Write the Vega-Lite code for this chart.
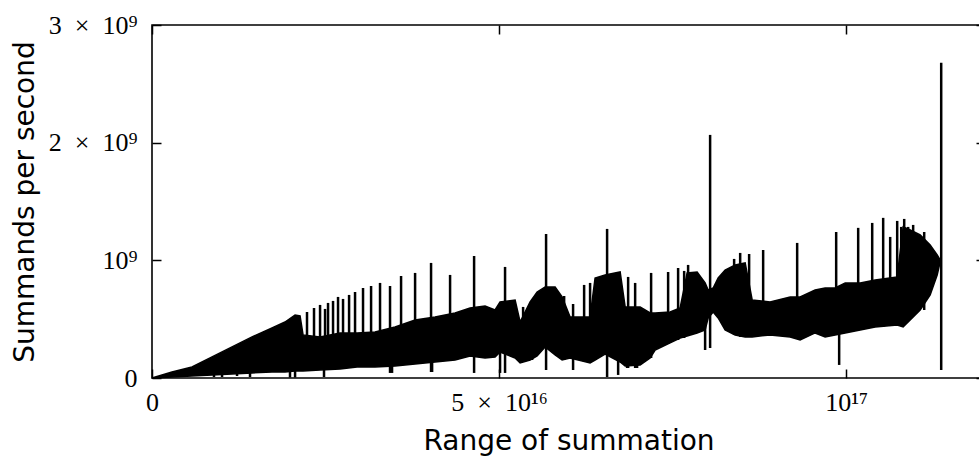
{
  "$schema": "https://vega.github.io/schema/vega-lite/v6.json",
  "width": 833,
  "height": 353,
  "autosize": {"type": "none"},
  "padding": {"left": 152, "top": 25, "right": -6, "bottom": 80},
  "background": "white",
  "config": {"view": {"stroke": "black", "strokeWidth": 1.6}},
  "datasets": {
    "env": [
      {"x": 0, "hi": 0, "lo": 0},
      {"x": 1.44e15, "hi": 2.6e7, "lo": 4e6},
      {"x": 2.88e15, "hi": 5.1e7, "lo": 8.5e6},
      {"x": 5.76e15, "hi": 9.4e7, "lo": 1.7e7},
      {"x": 8.65e15, "hi": 1.79e8, "lo": 2.6e7},
      {"x": 1.153e16, "hi": 2.64e8, "lo": 3.4e7},
      {"x": 1.441e16, "hi": 3.49e8, "lo": 4.3e7},
      {"x": 1.729e16, "hi": 4.25e8, "lo": 5.1e7},
      {"x": 1.916e16, "hi": 4.76e8, "lo": 5.1e7},
      {"x": 2.061e16, "hi": 5.36e8, "lo": 6.0e7},
      {"x": 2.133e16, "hi": 5.27e8, "lo": 6.0e7},
      {"x": 2.176e16, "hi": 3.66e8, "lo": 6.0e7},
      {"x": 2.421e16, "hi": 3.49e8, "lo": 6.8e7},
      {"x": 2.709e16, "hi": 3.83e8, "lo": 7.7e7},
      {"x": 2.954e16, "hi": 3.83e8, "lo": 9.4e7},
      {"x": 3.213e16, "hi": 3.91e8, "lo": 9.4e7},
      {"x": 3.501e16, "hi": 4.34e8, "lo": 1.02e8},
      {"x": 3.790e16, "hi": 4.93e8, "lo": 1.19e8},
      {"x": 4.078e16, "hi": 5.19e8, "lo": 1.36e8},
      {"x": 4.366e16, "hi": 5.53e8, "lo": 1.53e8},
      {"x": 4.582e16, "hi": 5.95e8, "lo": 1.87e8},
      {"x": 4.798e16, "hi": 6.12e8, "lo": 1.70e8},
      {"x": 4.942e16, "hi": 5.78e8, "lo": 1.79e8},
      {"x": 5.014e16, "hi": 6.46e8, "lo": 2.21e8},
      {"x": 5.231e16, "hi": 6.63e8, "lo": 1.70e8},
      {"x": 5.303e16, "hi": 4.76e8, "lo": 1.28e8},
      {"x": 5.447e16, "hi": 6.46e8, "lo": 1.53e8},
      {"x": 5.548e16, "hi": 7.31e8, "lo": 1.87e8},
      {"x": 5.663e16, "hi": 7.74e8, "lo": 2.64e8},
      {"x": 5.807e16, "hi": 7.74e8, "lo": 1.96e8},
      {"x": 5.908e16, "hi": 6.89e8, "lo": 1.53e8},
      {"x": 6.023e16, "hi": 5.19e8, "lo": 1.70e8},
      {"x": 6.311e16, "hi": 5.19e8, "lo": 1.28e8},
      {"x": 6.383e16, "hi": 8.50e8, "lo": 1.53e8},
      {"x": 6.527e16, "hi": 8.76e8, "lo": 2.04e8},
      {"x": 6.744e16, "hi": 9.01e8, "lo": 1.36e8},
      {"x": 6.816e16, "hi": 6.04e8, "lo": 1.02e8},
      {"x": 7.032e16, "hi": 6.04e8, "lo": 1.11e8},
      {"x": 7.176e16, "hi": 5.53e8, "lo": 1.70e8},
      {"x": 7.248e16, "hi": 5.53e8, "lo": 2.38e8},
      {"x": 7.464e16, "hi": 5.61e8, "lo": 2.98e8},
      {"x": 7.608e16, "hi": 5.95e8, "lo": 3.40e8},
      {"x": 7.709e16, "hi": 8.93e8, "lo": 3.57e8},
      {"x": 7.853e16, "hi": 9.01e8, "lo": 3.83e8},
      {"x": 7.968e16, "hi": 8.08e8, "lo": 4.08e8},
      {"x": 8.012e16, "hi": 7.48e8, "lo": 5.10e8},
      {"x": 8.084e16, "hi": 7.65e8, "lo": 5.61e8},
      {"x": 8.156e16, "hi": 8.50e8, "lo": 5.10e8},
      {"x": 8.256e16, "hi": 9.18e8, "lo": 4.08e8},
      {"x": 8.401e16, "hi": 9.61e8, "lo": 3.66e8},
      {"x": 8.545e16, "hi": 9.78e8, "lo": 3.49e8},
      {"x": 8.646e16, "hi": 6.63e8, "lo": 3.49e8},
      {"x": 8.905e16, "hi": 6.46e8, "lo": 3.66e8},
      {"x": 9.193e16, "hi": 6.89e8, "lo": 3.49e8},
      {"x": 9.337e16, "hi": 6.89e8, "lo": 3.23e8},
      {"x": 9.553e16, "hi": 7.48e8, "lo": 3.83e8},
      {"x": 9.697e16, "hi": 7.65e8, "lo": 3.49e8},
      {"x": 9.841e16, "hi": 7.65e8, "lo": 3.66e8},
      {"x": 9.986e16, "hi": 8.08e8, "lo": 3.83e8},
      {"x": 1.0202e17, "hi": 8.08e8, "lo": 4.08e8},
      {"x": 1.0418e17, "hi": 8.33e8, "lo": 4.34e8},
      {"x": 1.0735e17, "hi": 8.59e8, "lo": 4.51e8},
      {"x": 1.0821e17, "hi": 1.284e9, "lo": 4.34e8},
      {"x": 1.0922e17, "hi": 1.259e9, "lo": 4.93e8},
      {"x": 1.1066e17, "hi": 1.216e9, "lo": 5.78e8},
      {"x": 1.1210e17, "hi": 1.131e9, "lo": 7.06e8},
      {"x": 1.1311e17, "hi": 1.046e9, "lo": 8.76e8},
      {"x": 1.1354e17, "hi": 1.003e9, "lo": 9.86e8}
    ],
    "spk": [
      {"x": 2.233e16, "lo": 1.11e8, "hi": 5.61e8},
      {"x": 2.334e16, "lo": 1.11e8, "hi": 5.95e8},
      {"x": 2.421e16, "lo": 1.11e8, "hi": 6.21e8},
      {"x": 2.493e16, "lo": 1.11e8, "hi": 5.87e8},
      {"x": 2.536e16, "lo": 1.11e8, "hi": 6.38e8},
      {"x": 2.608e16, "lo": 1.11e8, "hi": 6.55e8},
      {"x": 2.680e16, "lo": 1.11e8, "hi": 6.89e8},
      {"x": 2.752e16, "lo": 1.11e8, "hi": 6.72e8},
      {"x": 2.839e16, "lo": 1.11e8, "hi": 7.06e8},
      {"x": 2.925e16, "lo": 1.11e8, "hi": 7.31e8},
      {"x": 3.040e16, "lo": 1.11e8, "hi": 7.65e8},
      {"x": 3.156e16, "lo": 1.11e8, "hi": 7.82e8},
      {"x": 3.285e16, "lo": 1.11e8, "hi": 8.08e8},
      {"x": 3.429e16, "lo": 4.3e7, "hi": 7.82e8},
      {"x": 3.588e16, "lo": 1.11e8, "hi": 8.67e8},
      {"x": 3.790e16, "lo": 1.19e8, "hi": 8.93e8},
      {"x": 4.020e16, "lo": 5.1e7, "hi": 9.78e8},
      {"x": 4.294e16, "lo": 1.53e8, "hi": 8.76e8},
      {"x": 4.640e16, "lo": 4.3e7, "hi": 1.037e9},
      {"x": 5.086e16, "lo": 4.3e7, "hi": 9.44e8},
      {"x": 5.346e16, "lo": 1.53e8, "hi": 6.04e8},
      {"x": 5.476e16, "lo": 1.53e8, "hi": 6.55e8},
      {"x": 5.677e16, "lo": 6.8e7, "hi": 1.224e9},
      {"x": 5.937e16, "lo": 1.53e8, "hi": 6.97e8},
      {"x": 6.066e16, "lo": 6.8e7, "hi": 6.29e8},
      {"x": 6.225e16, "lo": 1.53e8, "hi": 7.91e8},
      {"x": 6.311e16, "lo": 1.36e8, "hi": 8.08e8},
      {"x": 6.556e16, "lo": 8.5e6, "hi": 1.267e9},
      {"x": 6.859e16, "lo": 8.5e7, "hi": 8.59e8},
      {"x": 6.960e16, "lo": 8.5e7, "hi": 8.08e8},
      {"x": 7.190e16, "lo": 1.70e8, "hi": 8.93e8},
      {"x": 7.435e16, "lo": 2.98e8, "hi": 9.01e8},
      {"x": 7.579e16, "lo": 3.23e8, "hi": 9.35e8},
      {"x": 7.666e16, "lo": 3.40e8, "hi": 9.10e8},
      {"x": 7.723e16, "lo": 3.57e8, "hi": 9.61e8},
      {"x": 7.839e16, "lo": 3.83e8, "hi": 9.01e8},
      {"x": 7.968e16, "lo": 2.38e8, "hi": 6.63e8},
      {"x": 8.040e16, "lo": 2.55e8, "hi": 2.066e9},
      {"x": 8.386e16, "lo": 3.66e8, "hi": 1.012e9},
      {"x": 8.473e16, "lo": 3.49e8, "hi": 1.063e9},
      {"x": 8.602e16, "lo": 3.49e8, "hi": 1.054e9},
      {"x": 8.804e16, "lo": 3.57e8, "hi": 1.088e9},
      {"x": 9.294e16, "lo": 3.40e8, "hi": 1.148e9},
      {"x": 9.856e16, "lo": 3.66e8, "hi": 1.241e9},
      {"x": 9.899e16, "lo": 1.11e8, "hi": 6.63e8},
      {"x": 1.0173e17, "lo": 4.08e8, "hi": 1.276e9},
      {"x": 1.0375e17, "lo": 4.25e8, "hi": 1.318e9},
      {"x": 1.0533e17, "lo": 4.34e8, "hi": 1.361e9},
      {"x": 1.0634e17, "lo": 4.42e8, "hi": 1.199e9},
      {"x": 1.0735e17, "lo": 4.42e8, "hi": 1.335e9},
      {"x": 1.0793e17, "lo": 4.42e8, "hi": 1.284e9},
      {"x": 1.0836e17, "lo": 4.93e8, "hi": 1.352e9},
      {"x": 1.0893e17, "lo": 4.93e8, "hi": 1.284e9},
      {"x": 1.0965e17, "lo": 5.36e8, "hi": 1.301e9},
      {"x": 1.1124e17, "lo": 5.78e8, "hi": 1.241e9},
      {"x": 1.1369e17, "lo": 6.8e7, "hi": 2.679e9},
      {"x": 8.93e15, "lo": 8.5e6, "hi": 1.53e8},
      {"x": 1.009e16, "lo": 8.5e6, "hi": 1.96e8},
      {"x": 1.225e16, "lo": 1.7e7, "hi": 2.38e8},
      {"x": 1.412e16, "lo": 8.5e6, "hi": 2.81e8},
      {"x": 1.988e16, "lo": 4e6, "hi": 4.08e8},
      {"x": 2.061e16, "lo": 4e6, "hi": 4.08e8},
      {"x": 2.478e16, "lo": 8.5e6, "hi": 3.23e8},
      {"x": 3.458e16, "lo": 4.3e7, "hi": 3.23e8},
      {"x": 4.035e16, "lo": 5.1e7, "hi": 4.08e8},
      {"x": 5.014e16, "lo": 4.3e7, "hi": 4.08e8},
      {"x": 6.715e16, "lo": 2.6e7, "hi": 4.93e8},
      {"x": 6.844e16, "lo": 8.5e7, "hi": 4.93e8},
      {"x": 6.988e16, "lo": 8.5e7, "hi": 4.93e8}
    ]
  },
  "layer": [
    {
      "data": {"name": "env"},
      "mark": {"type": "area", "color": "black", "stroke": "black", "strokeWidth": 1.5},
      "encoding": {
        "x": {
          "field": "x", "type": "quantitative",
          "scale": {"domain": [0, 1.2e17], "nice": false, "zero": false},
          "axis": {
            "orient": "bottom", "values": [0, 5e16, 1e17],
            "labelExpr": "datum.value == 0 ? '0' : datum.value == 5e16 ? '5\u2002×\u200210¹⁶' : '10¹⁷'",
            "labelFont": "Liberation Serif", "labelFontSize": 26, "labelColor": "black",
            "labelFlush": false, "labelOverlap": false, "labelBaseline": "top",
            "tickSize": -9, "labelPadding": 20, "tickColor": "black", "tickWidth": 1.5,
            "domain": false, "grid": false,
            "title": "Range of summation", "titleFont": "DejaVu Sans", "titleFontSize": 28,
            "titleFontWeight": "normal", "titleColor": "black", "titleY": 71, "titleBaseline": "alphabetic"
          }
        },
        "y": {
          "field": "lo", "type": "quantitative",
          "scale": {"domain": [0, 3e9], "nice": false},
          "axis": {
            "orient": "left", "values": [0, 1e9, 2e9, 3e9],
            "labelExpr": "datum.value == 0 ? '0' : datum.value == 1e9 ? '10⁹' : datum.value == 2e9 ? '2\u2002×\u200210⁹' : '3\u2002×\u200210⁹'",
            "labelFont": "Liberation Serif", "labelFontSize": 26, "labelColor": "black",
            "labelFlush": false, "labelOverlap": false, "labelBaseline": "middle",
            "tickSize": -9, "labelPadding": 24, "tickColor": "black", "tickWidth": 1.5,
            "domain": false, "grid": false,
            "title": "Summands per second", "titleFont": "DejaVu Sans", "titleFontSize": 28,
            "titleFontWeight": "normal", "titleColor": "black", "titleX": -119, "titleY": 176.5,
            "titleAngle": 270, "titleBaseline": "alphabetic", "titleAlign": "center"
          }
        },
        "y2": {"field": "hi"}
      }
    },
    {
      "data": {"name": "spk"},
      "mark": {"type": "rule", "color": "black", "strokeWidth": 2.5},
      "encoding": {
        "x": {
          "field": "x", "type": "quantitative",
          "axis": {"orient": "top", "values": [0, 5e16, 1e17], "labels": false, "tickSize": -9,
                   "tickColor": "black", "tickWidth": 1.5, "domain": false, "grid": false, "title": null}
        },
        "y": {
          "field": "lo", "type": "quantitative",
          "axis": {"orient": "right", "values": [0, 1e9, 2e9, 3e9], "labels": false, "tickSize": -9,
                   "tickColor": "black", "tickWidth": 1.5, "domain": false, "grid": false, "title": null}
        },
        "y2": {"field": "hi"}
      }
    }
  ],
  "resolve": {"axis": {"x": "independent", "y": "independent"}}
}
